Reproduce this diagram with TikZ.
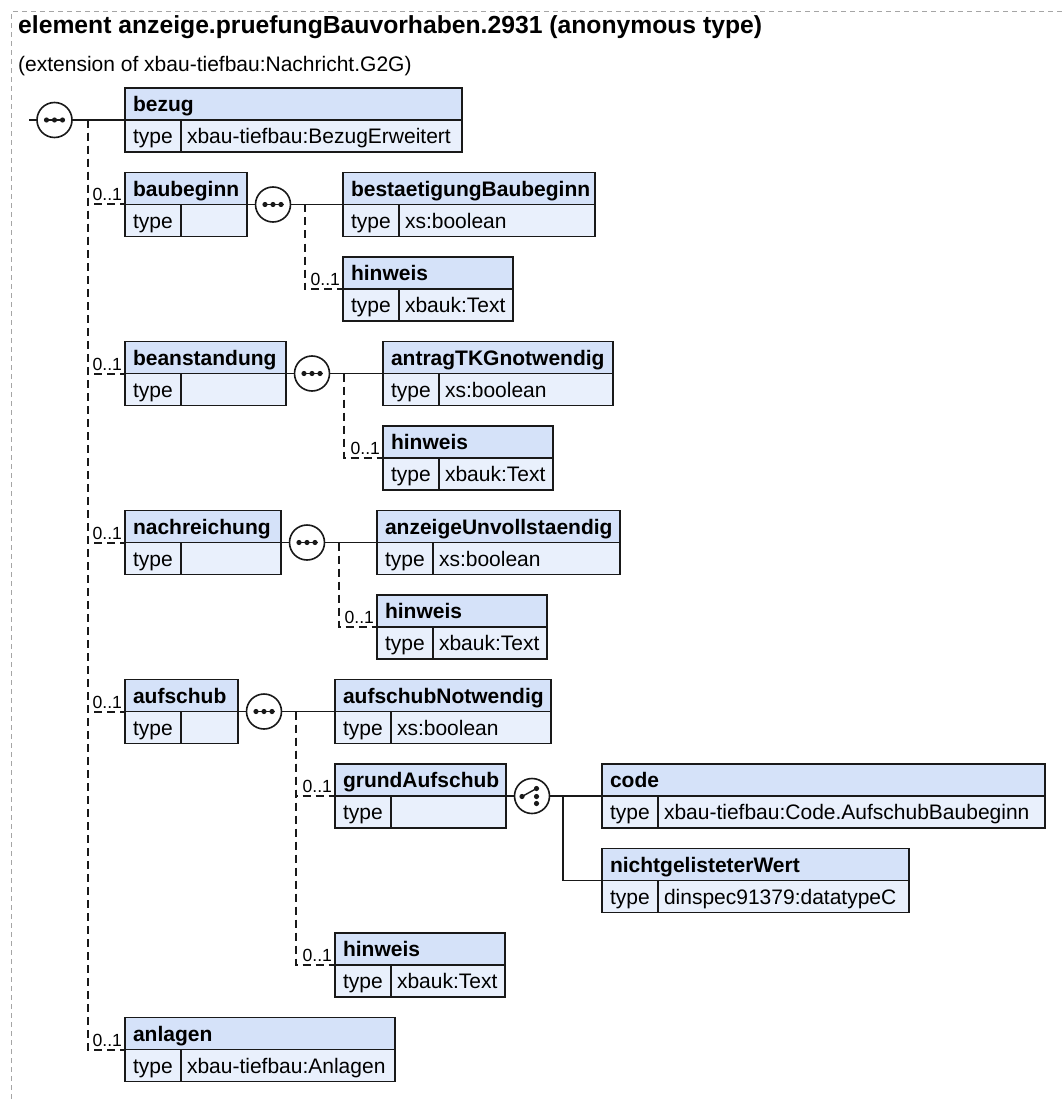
\documentclass[tikz,border=0pt]{standalone}
\usepackage{fontspec}
\setmainfont{Liberation Sans}
\usepackage{tikz}

\definecolor{hdrfill}{RGB}{213,226,249}
\definecolor{rowfill}{RGB}{233,240,252}
\definecolor{framegray}{RGB}{165,165,165}
\definecolor{edge}{RGB}{25,25,25}

\begin{document}
\begin{tikzpicture}[
  x=1pt, y=-1pt,
  hdr/.style={draw=edge, fill=hdrfill, line width=1.8pt, anchor=north west, outer sep=0pt,
    inner xsep=8pt, inner ysep=0pt, minimum height=32pt, text height=15.2pt, text depth=0pt,
    text width=#1pt-16pt, font=\fontsize{21}{24}\selectfont\bfseries},
  typ/.style={draw=edge, fill=rowfill, line width=1.8pt, anchor=north west, outer sep=0pt,
    inner xsep=8pt, inner ysep=0pt, minimum height=32pt, text height=15.2pt, text depth=0pt,
    text width=40pt, font=\fontsize{21}{24}\selectfont},
  val/.style={typ, inner xsep=6pt, text width=#1pt-68pt},
  seqc/.style={circle, draw=edge, fill=white, line width=1.6pt, minimum size=35pt, inner sep=0pt, outer sep=0pt,
    path picture={
      \draw[edge, line width=1.4pt] (path picture bounding box.center) ++(-10.5pt,0pt) -- ++(21pt,0pt);
      \foreach \d in {-8,0,8}
        \fill[edge] (path picture bounding box.center) ++(\d pt,0pt) circle (2.6pt);
    }},
  choicec/.style={circle, draw=edge, fill=white, line width=1.6pt, minimum size=35pt, inner sep=0pt, outer sep=0pt,
    path picture={
      \draw[edge, line width=1.4pt] (path picture bounding box.center) ++(-10pt,-0.5pt) -- ++(14.5pt,8pt);
      \fill[edge] (path picture bounding box.center) ++(-10pt,-0.5pt) circle (2.6pt);
      \foreach \d in {7.5,-0.5,-7.5}
        \fill[edge] (path picture bounding box.center) ++(4.5pt,\d pt) circle (2.6pt);
    }},
  req/.style={draw=edge, line width=1.5pt},
  opt/.style={draw=edge, line width=2pt, dash pattern=on 8pt off 5pt},
  card/.style={anchor=base east, xshift=-2pt, yshift=3.5pt, inner sep=0pt, font=\fontsize{17.6}{20}\selectfont},
  frame/.style={draw=framegray, line width=1pt, dash pattern=on 5pt off 4pt}
]
\useasboundingbox (0,0) rectangle (1062,1099);
\draw[frame] (11.5,1099) -- (11.5,11.5) -- (1062,11.5);

\node[anchor=base west, inner sep=0pt, font=\fontsize{24.7}{28}\selectfont\bfseries] (title) at (18,34)
  {element anzeige.pruefungBauvorhaben.2931 (anonymous type)};
\node[anchor=base west, inner sep=0pt, font=\fontsize{21}{24}\selectfont] (ext) at (18,72)
  {(extension of xbau-tiefbau:Nachricht.G2G)};

\coordinate (start) at (29,120);
\node[seqc] (s0) at (54.5,120) {};
\coordinate (j0) at (87.5,120);

\node[hdr=337] (bz) at (125,88) {bezug};
\node[typ] (bz-t) at (bz.south west) {type};
\node[val=337] (bz-v) at (bz-t.north east) {xbau-tiefbau:BezugErweitert};

\node[hdr=122] (bb) at (125,172.5) {baubeginn};
\node[typ] (bb-t) at (bb.south west) {type};
\node[val=122] (bb-v) at (bb-t.north east) {};
\node[seqc] (s1) at (273,204.5) {};
\coordinate (j1) at (304.5,204.5);
\node[hdr=252] (bs) at (343,172.5) {bestaetigungBaubeginn};
\node[typ] (bs-t) at (bs.south west) {type};
\node[val=252] (bs-v) at (bs-t.north east) {xs:boolean};
\node[hdr=170] (hw1) at (343,257) {hinweis};
\node[typ] (hw1-t) at (hw1.south west) {type};
\node[val=170] (hw1-v) at (hw1-t.north east) {xbauk:Text};

\node[hdr=161] (bn) at (125,341.5) {beanstandung};
\node[typ] (bn-t) at (bn.south west) {type};
\node[val=161] (bn-v) at (bn-t.north east) {};
\node[seqc] (s2) at (312,373.5) {};
\coordinate (j2) at (344,373.5);
\node[hdr=230] (tk) at (383,341.5) {antragTKGnotwendig};
\node[typ] (tk-t) at (tk.south west) {type};
\node[val=230] (tk-v) at (tk-t.north east) {xs:boolean};
\node[hdr=170] (hw2) at (383,426) {hinweis};
\node[typ] (hw2-t) at (hw2.south west) {type};
\node[val=170] (hw2-v) at (hw2-t.north east) {xbauk:Text};

\node[hdr=156] (nr) at (125,510.5) {nachreichung};
\node[typ] (nr-t) at (nr.south west) {type};
\node[val=156] (nr-v) at (nr-t.north east) {};
\node[seqc] (s3) at (307,542.5) {};
\coordinate (j3) at (339,542.5);
\node[hdr=243] (av) at (377,510.5) {anzeigeUnvollstaendig};
\node[typ] (av-t) at (av.south west) {type};
\node[val=243] (av-v) at (av-t.north east) {xs:boolean};
\node[hdr=170] (hw3) at (377,595) {hinweis};
\node[typ] (hw3-t) at (hw3.south west) {type};
\node[val=170] (hw3-v) at (hw3-t.north east) {xbauk:Text};

\node[hdr=113] (au) at (125,679.5) {aufschub};
\node[typ] (au-t) at (au.south west) {type};
\node[val=113] (au-v) at (au-t.north east) {};
\node[seqc] (s4) at (264,711.5) {};
\coordinate (j4) at (296,711.5);
\node[hdr=216] (aun) at (335,679.5) {aufschubNotwendig};
\node[typ] (aun-t) at (aun.south west) {type};
\node[val=216] (aun-v) at (aun-t.north east) {xs:boolean};
\node[hdr=171] (ga) at (335,764) {grundAufschub};
\node[typ] (ga-t) at (ga.south west) {type};
\node[val=171] (ga-v) at (ga-t.north east) {};
\node[choicec] (c1) at (532,796) {};
\coordinate (k1) at (563,796);
\node[hdr=443] (cd) at (602,764) {code};
\node[typ] (cd-t) at (cd.south west) {type};
\node[val=443] (cd-v) at (cd-t.north east) {xbau-tiefbau:Code.AufschubBaubeginn};
\node[hdr=307] (ngw) at (602,848.5) {nichtgelisteterWert};
\node[typ] (ngw-t) at (ngw.south west) {type};
\node[val=307] (ngw-v) at (ngw-t.north east) {dinspec91379:datatypeC};
\node[hdr=170] (hw4) at (335,933) {hinweis};
\node[typ] (hw4-t) at (hw4.south west) {type};
\node[val=170] (hw4-v) at (hw4-t.north east) {xbauk:Text};

\node[hdr=270] (anl) at (125,1017.5) {anlagen};
\node[typ] (anl-t) at (anl.south west) {type};
\node[val=270] (anl-v) at (anl-t.north east) {xbau-tiefbau:Anlagen};

\draw[req] (start) -- (s0);
\draw[req] (s0) -- (bz.south west);
\draw[opt] (j0) |- (bb.south west) node[card] (bb-c) {0..1};
\draw[opt] (j0) |- (bn.south west) node[card] (bn-c) {0..1};
\draw[opt] (j0) |- (nr.south west) node[card] (nr-c) {0..1};
\draw[opt] (j0) |- (au.south west) node[card] (au-c) {0..1};
\draw[opt] (j0) |- (anl.south west) node[card] (anl-c) {0..1};

\draw[req] (bb.south east) -- (s1);
\draw[req] (s1) -- (bs.south west);
\draw[opt] (j1) |- (hw1.south west) node[card] (hw1-c) {0..1};

\draw[req] (bn.south east) -- (s2);
\draw[req] (s2) -- (tk.south west);
\draw[opt] (j2) |- (hw2.south west) node[card] (hw2-c) {0..1};

\draw[req] (nr.south east) -- (s3);
\draw[req] (s3) -- (av.south west);
\draw[opt] (j3) |- (hw3.south west) node[card] (hw3-c) {0..1};

\draw[req] (au.south east) -- (s4);
\draw[req] (s4) -- (aun.south west);
\draw[opt] (j4) |- (ga.south west) node[card] (ga-c) {0..1};
\draw[opt] (j4) |- (hw4.south west) node[card] (hw4-c) {0..1};

\draw[req] (ga.south east) -- (c1);
\draw[req] (c1) -- (cd.south west);
\draw[req] (k1) |- (ngw.south west);
\end{tikzpicture}
\end{document}
